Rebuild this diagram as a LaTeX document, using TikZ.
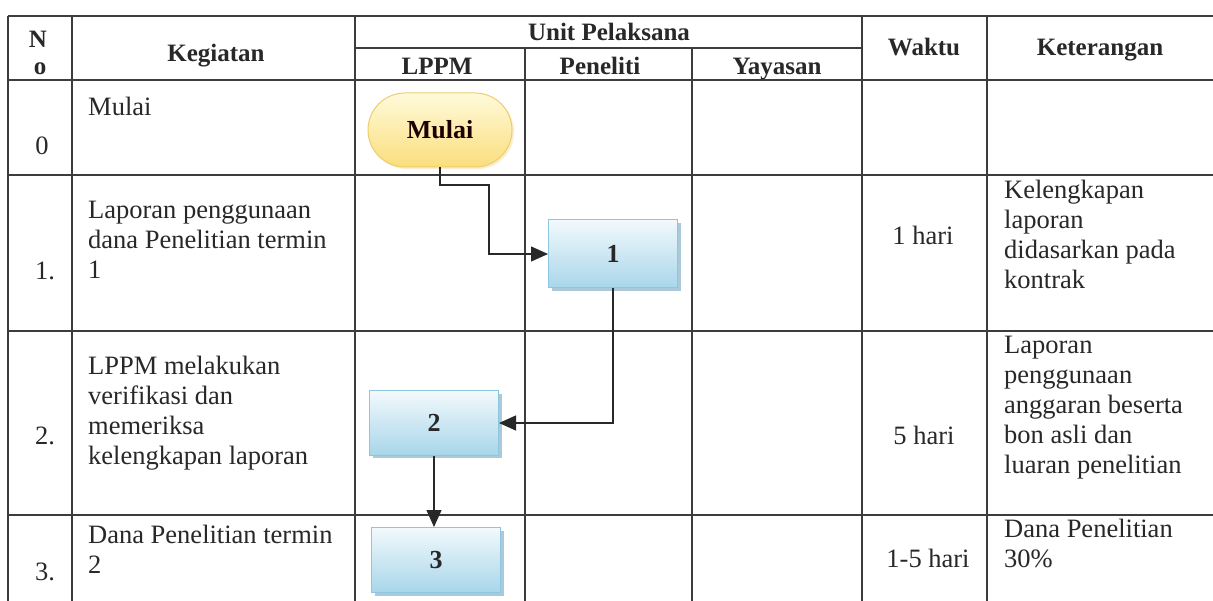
\documentclass[tikz,border=0pt]{standalone}
\usepackage{fontspec}
\setmainfont{Liberation Serif}
\usetikzlibrary{arrows.meta,shapes.misc,shadows}
\definecolor{ink}{RGB}{40,40,40}
\definecolor{gridc}{RGB}{60,60,60}
\definecolor{ytop}{RGB}{255,250,218}
\definecolor{ybot}{RGB}{250,222,125}
\definecolor{ydraw}{RGB}{238,205,110}
\definecolor{btop}{RGB}{242,249,252}
\definecolor{bbot}{RGB}{168,214,234}
\definecolor{bdraw}{RGB}{140,198,224}
\definecolor{bshad}{RGB}{150,188,208}
\tikzset{
  gridline/.style={draw=gridc, line width=1.2pt},
  txt/.style={inner sep=0, anchor=north west, align=left, text=ink,
    font=\fontsize{26.5}{30}\selectfont, execute at begin node={\rule{0pt}{20pt}}},
  one/.style={inner sep=0, anchor=base, text=ink, font=\fontsize{26.5}{30}\selectfont},
  num/.style={inner sep=0, anchor=base west, text=ink, font=\fontsize{26.5}{30}\selectfont},
  hdr/.style={inner sep=0, anchor=base, text=ink, font=\bfseries\fontsize{25}{30}\selectfont},
  startbox/.style={rounded rectangle, draw=ydraw, line width=1pt, top color=ytop, bottom color=ybot,
    minimum width=144pt, minimum height=74pt, inner sep=0, text=black!80!red!60!black,
    font=\bfseries\fontsize{26}{30}\selectfont,
    drop shadow={shadow xshift=2pt, shadow yshift=-2pt, fill=ydraw!60, opacity=0.6}},
  procbox/.style={rectangle, draw=bdraw, line width=1pt, top color=btop, bottom color=bbot,
    minimum width=129pt, minimum height=66pt, inner sep=0, text=ink,
    font=\bfseries\fontsize{26}{30}\selectfont,
    drop shadow={shadow xshift=3pt, shadow yshift=-3pt, fill=bshad, opacity=0.8}},
  arr/.style={draw=ink, line width=1.2pt, -{Triangle[length=17pt,width=15pt]}}
}
\begin{document}
\begin{tikzpicture}[x=1pt,y=-1pt]
\fill[white] (0,0) rectangle (1213,601);
\useasboundingbox (0,0) rectangle (1213,601);
% grid
\draw[gridline] (8,16) -- (1213,16);
\draw[gridline] (355,48) -- (862,48);
\foreach \yy in {80,175,331,515} \draw[gridline] (8,\yy) -- (1213,\yy);
\foreach \xx in {8,72,355,862,987} \draw[gridline] (\xx,16) -- (\xx,601);
\foreach \xx in {525,692} \draw[gridline] (\xx,48) -- (\xx,601);
% header
\node[hdr] (hN) at (38,48) {N};
\node[hdr] (hO) at (40,75) {o};
\node[hdr] (hKeg) at (216,62) {Kegiatan};
\node[hdr] (hUnit) at (609,41) {Unit Pelaksana};
\node[hdr] (hLPPM) at (437,75) {LPPM};
\node[hdr] (hPen) at (600,75) {Peneliti};
\node[hdr] (hYay) at (777,75) {Yayasan};
\node[hdr] (hWak) at (924,56) {Waktu};
\node[hdr] (hKet) at (1100,56) {Keterangan};
% numbers
\node[one] (n0) at (42,155) {0};
\node[num] (nr1) at (35,280) {1.};
\node[num] (nr2) at (35,445) {2.};
\node[num] (nr3) at (35,580) {3.};
% kegiatan
\node[txt] (k0) at (88,95) {Mulai};
\node[txt] (k1) at (88,201) {Laporan penggunaan\\dana Penelitian termin\\1};
\node[txt] (k2) at (88,356) {LPPM melakukan\\verifikasi dan\\memeriksa\\kelengkapan laporan};
\node[txt] (k3) at (88,525) {Dana Penelitian termin\\2};
% waktu
\node[one] (w1) at (923,245) {1 hari};
\node[one] (w2) at (924,445) {5 hari};
\node[one] (w3) at (928,567) {1-5 hari};
% keterangan
\node[txt] (t1) at (1004,180) {Kelengkapan\\laporan\\didasarkan pada\\kontrak};
\node[txt] (t2) at (1004,336) {Laporan\\penggunaan\\anggaran beserta\\bon asli dan\\luaran penelitian};
\node[txt] (t3) at (1004,519) {Dana Penelitian\\30\%};
% flow
\node[startbox] (mulai) at (440,130) {Mulai};
\node[procbox, minimum height=68pt] (p1) at (613,254) {1};
\node[procbox, minimum height=64pt] (p2) at (434,423) {2};
\node[procbox, minimum height=65pt] (p3) at (436,560) {3};
\coordinate (c1) at (489,185);
\draw[arr] (mulai.south) |- (c1) |- (p1.west);
\draw[arr] (p1.south) |- (p2.east);
\draw[arr] (p2.south) -- (p2.south |- p3.north);
\end{tikzpicture}
\end{document}
